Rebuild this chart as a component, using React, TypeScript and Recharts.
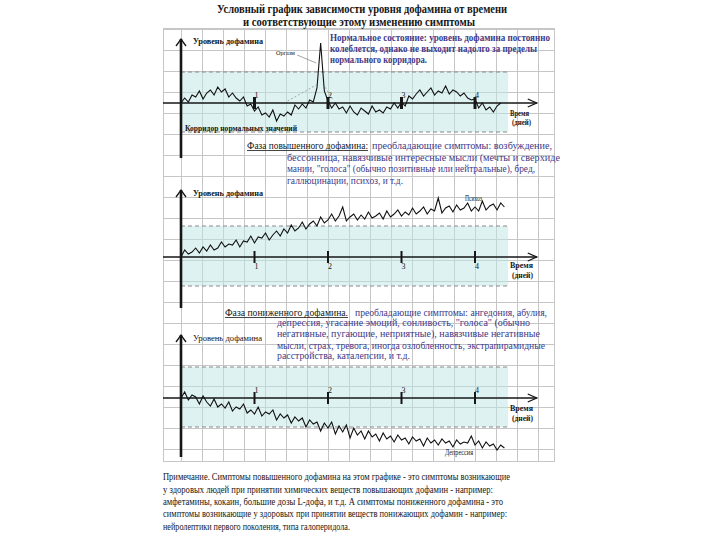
import { LineChart, Line, XAxis, YAxis, ReferenceArea, ReferenceLine, ReferenceDot } from "recharts";

// шаг по времени между точками (дни)
const STEP = 0.05;

// нормальное состояние — колебания вокруг нуля, с пиком ("оргазм") около 1.9 дня
const normalLevels = [
  0, 0.5, 0.1, 0.8, 0.6, 1.2, 0.4, 1.0, 1.3, 0.8, 1.6, 1.1, 1.4, 0.6, 1.0, 0.5, 0.2, 0.6, -0.3, -0.1,
  -0.8, -0.4, -1.2, -1.0, -1.4, -0.7, -1.8, -1.1, -1.3, -0.9, -1.2, -0.2, -0.6, -0.1, -0.5, 0.3, 0.1, 1.5, 6.0, 1.2,
  0.2, -0.5, 0.0, -0.6, -0.4, -1.0, -0.3, -0.9, -1.2, -0.5, -0.8, -1.1, -0.3, -0.9, -0.7, -1.0, -0.4, -0.6, 0.0, -0.5,
  0.1, -0.3, 0.7, 0.4, 0.9, 1.3, 0.7, 1.1, 1.5, 0.8, 1.2, 1.0, 1.7, 0.9, 1.3, 1.1, 0.7, 1.0, 0.5, 0.3,
  0.4, -0.5, 0.0, -0.7, -0.4, -0.9, -0.3, 0.0,
];

// фаза повышенного дофамина
const highLevels = [
  0.0, 0.7, 0.3, 0.5, 0.9, 0.4, 1.0, 0.6, 1.2, 0.7, 0.9, 1.5, 1.0, 1.3, 1.2, 1.7, 1.0, 1.6, 1.5, 2.1,
  1.4, 2.0, 1.9, 2.4, 1.7, 2.2, 2.6, 2.1, 2.8, 2.4, 3.2, 2.6, 2.9, 3.5, 2.8, 3.3, 3.6, 3.1, 4.0, 3.4,
  3.7, 4.3, 3.6, 4.1, 5.0, 3.6, 4.0, 4.3, 3.7, 4.2, 3.8, 4.5, 3.9, 4.1, 4.4, 3.8, 4.6, 4.0, 4.3, 4.7,
  4.1, 4.5, 4.2, 4.9, 4.3, 4.6, 5.0, 4.3, 4.8, 4.6, 5.9, 4.4, 4.9, 5.1, 4.5, 5.2, 4.7, 4.9, 5.4, 4.6,
  5.0, 4.6, 5.6, 4.7, 5.1, 5.3, 4.7, 5.4, 5.0,
];

// фаза пониженного дофамина
const lowLevels = [
  0.0, 0.6, -0.2, 0.3, 0.1, -0.6, 0.2, -0.4, -0.8, -0.1, -0.9, -0.6, -1.0, -0.4, -1.3, -0.9, -1.1, -0.6, -1.5, -1.2,
  -1.6, -0.9, -1.8, -1.4, -1.6, -1.2, -2.2, -1.6, -2.0, -1.7, -2.5, -1.9, -2.3, -2.0, -2.9, -2.2, -2.6, -2.4, -3.3, -2.5,
  -3.0, -2.4, -3.6, -2.8, -3.4, -2.7, -4.0, -3.0, -3.7, -3.3, -4.1, -3.3, -3.9, -3.6, -4.3, -3.5, -4.1, -3.8, -4.4, -3.7,
  -4.2, -4.0, -4.6, -3.9, -4.3, -4.1, -4.8, -4.0, -4.5, -4.2, -4.7, -4.1, -4.5, -4.3, -4.9, -4.2, -4.6, -4.4, -4.5, -3.8,
  -4.7, -4.3, -5.0, -4.4, -4.8, -4.6, -5.2, -4.7, -5.0,
];

const dayTicks = [1, 2, 3, 4];
const CORRIDOR_LOW = -2.9;
const CORRIDOR_HIGH = 3.1;
const CORRIDOR_END = 4.45;
const AXIS_END = 4.84;

// геометрия страницы
const GRID_LEFT = 163;
const GRID_W = 392;
const X_DOMAIN: [number, number] = [(163 - 181) / 73.5, (555 - 181) / 73.5];

const FONT = '"Liberation Serif", "DejaVu Serif", serif';
const INK = "#161616";
const BLUE = "#403a88";

const toRows = (levels: number[]) => levels.map((v, i) => ({ t: +(i * STEP).toFixed(2), v }));

function Panel({
  top,
  height,
  yDomain,
  levels,
  axisTop,
  axisBottom,
  side,
  tickW,
  children,
}: {
  top: number;
  height: number;
  yDomain: [number, number];
  levels: number[];
  axisTop: number;
  axisBottom: number;
  side: "above" | "below";
  tickW: number;
  children?: any;
}) {
  return (
    <div style={{ position: "absolute", left: GRID_LEFT, top, width: GRID_W, height }}>
      <LineChart width={GRID_W} height={height} data={toRows(levels)} margin={{ top: 0, right: 0, bottom: 0, left: 0 }}>
        <XAxis dataKey="t" type="number" domain={X_DOMAIN} allowDataOverflow hide />
        <YAxis type="number" domain={yDomain} allowDataOverflow hide />
        <ReferenceArea x1={0} x2={CORRIDOR_END} y1={CORRIDOR_LOW} y2={CORRIDOR_HIGH} fill="#bfe6e6" fillOpacity={0.5} stroke="none" />
        <ReferenceLine segment={[{ x: 0, y: CORRIDOR_HIGH }, { x: CORRIDOR_END, y: CORRIDOR_HIGH }]} stroke="#8a8a8a" strokeDasharray="4 3" />
        <ReferenceLine segment={[{ x: 0, y: CORRIDOR_LOW }, { x: CORRIDOR_END, y: CORRIDOR_LOW }]} stroke="#8a8a8a" strokeDasharray="4 3" />
        {children}
        <ReferenceLine segment={[{ x: X_DOMAIN[0], y: 0 }, { x: AXIS_END, y: 0 }]} stroke={INK} strokeWidth={1.4} />
        <ReferenceLine segment={[{ x: 0, y: axisBottom }, { x: 0, y: axisTop }]} stroke={INK} strokeWidth={2.6} />
        <ReferenceDot
          x={AXIS_END}
          y={0}
          shape={(p: any) => (
            <path d={`M${p.cx - 9},${p.cy - 4}L${p.cx},${p.cy}L${p.cx - 9},${p.cy + 4}`} fill="none" stroke={INK} strokeWidth={1.3} />
          )}
        />
        <ReferenceDot
          x={0}
          y={axisTop}
          shape={(p: any) => (
            <path d={`M${p.cx - 5},${p.cy + 7}L${p.cx},${p.cy}L${p.cx + 5},${p.cy + 7}`} fill="none" stroke={INK} strokeWidth={1.3} />
          )}
        />
        {dayTicks.map((d) => (
          <ReferenceDot
            key={d}
            x={d}
            y={0}
            shape={(p: any) => (
              <g>
                <line x1={p.cx} x2={p.cx} y1={p.cy - 6} y2={p.cy + 6} stroke={INK} strokeWidth={tickW} />
                <text x={p.cx + 2} y={side === "above" ? p.cy - 5 : p.cy + 12} fontSize={8} textAnchor="middle" fontFamily={FONT} fill={INK}>
                  {d}
                </text>
              </g>
            )}
          />
        ))}
        <Line dataKey="v" type="linear" stroke="#111" strokeWidth={1.1} dot={false} isAnimationActive={false} />
      </LineChart>
    </div>
  );
}

// текст, сжатый до ширины как на скане
function T({
  x,
  y,
  w,
  size = 10,
  bold = false,
  fill = INK,
  children,
}: {
  x: number;
  y: number;
  w: number;
  size?: number;
  bold?: boolean;
  fill?: string;
  children: string;
}) {
  return (
    <text
      x={x}
      y={y + size * 0.33}
      textLength={w}
      lengthAdjust="spacingAndGlyphs"
      fontSize={size}
      fontWeight={bold ? 700 : 400}
      fill={fill}
      fontFamily={FONT}
    >
      {children}
    </text>
  );
}

export default function App() {
  return (
    <div style={{ position: "absolute", left: 0, top: 0, width: 720, height: 540, background: "#fff", overflow: "hidden" }}>
      {/* миллиметровка */}
      <div
        style={{
          position: "absolute",
          left: GRID_LEFT,
          top: 28,
          width: GRID_W,
          height: 434,
          boxSizing: "border-box",
          border: "1px solid #c6c6c6",
          backgroundImage:
            "linear-gradient(to right, #c6c6c6 1px, transparent 1px), linear-gradient(to bottom, #c6c6c6 1px, transparent 1px)",
          backgroundSize: "21px 21px",
          backgroundPosition: "17px 0px",
        }}
      />

      <Panel top={28} height={137} yDomain={[-6.2, 7.5]} levels={normalLevels} axisTop={6.4} axisBottom={-5.5} side="above" tickW={3}>
        <ReferenceLine segment={[{ x: 1.45, y: 0.2 }, { x: 1.84, y: 1.8 }]} stroke="#777" strokeWidth={0.6} strokeDasharray="2 2" />
        <ReferenceLine segment={[{ x: 2.06, y: 0.4 }, { x: 1.94, y: 1.8 }]} stroke="#777" strokeWidth={0.6} strokeDasharray="2 2" />
        <ReferenceLine segment={[{ x: 1.58, y: 4.8 }, { x: 1.84, y: 4.0 }]} stroke="#666" strokeWidth={0.6} />
      </Panel>
      <Panel top={165} height={145} yDomain={[-5.3, 9.2]} levels={highLevels} axisTop={6.7} axisBottom={-5.1} side="below" tickW={2} />
      <Panel top={310} height={152} yDomain={[-6.4, 8.8]} levels={lowLevels} axisTop={6.3} axisBottom={-5.9} side="above" tickW={2} />

      <svg width={720} height={540} style={{ position: "absolute", left: 0, top: 0, pointerEvents: "none" }}>
        <defs>
          <clipPath id="page-cut">
            <rect x={0} y={0} width={560} height={540} />
          </clipPath>
        </defs>
        <T x={217} y={8.5} w={290} size={12.5} bold>Условный график зависимости уровня дофамина от времени</T>
        <T x={243} y={22} w={232} size={12.5} bold>и соответствующие этому изменению симптомы</T>

        {/* панель 1 */}
        <T x={193} y={41} w={70} size={8} bold>Уровень дофамина</T>
        <T x={276} y={53} w={19} size={7}>Оргазм</T>
        <T x={330} y={38} w={220} size={10.5} bold fill={BLUE}>Нормальное состояние: уровень дофамина постоянно</T>
        <T x={330} y={49} w={207} size={10.5} bold fill={BLUE}>колеблется, однако не выходит надолго за пределы</T>
        <T x={330} y={60} w={97} size={10.5} bold fill={BLUE}>нормального корридора.</T>
        <T x={510} y={114} w={19} size={7.5} bold>Время</T>
        <T x={512} y={123} w={19} size={7.5} bold>(дней)</T>
        <T x={185} y={128} w={112} size={8.5} bold>Корридор нормальных значений</T>

        {/* панель 2 */}
        <T x={247} y={146} w={121} size={10.5}>Фаза повышенного дофамина:</T>
        <line x1={247} x2={368} y1={150.5} y2={150.5} stroke={INK} strokeWidth={0.8} />
        <g clipPath="url(#page-cut)">
          <T x={372} y={146} w={180} size={10.5} fill={BLUE}>преобладающие симптомы: возбуждение,</T>
          <T x={287} y={158} w={281} size={10.5} fill={BLUE}>бессонница, навязчивые интересные мысли (мечты и сверхидеи,</T>
          <T x={287} y={169} w={248} size={10.5} fill={BLUE}>мании, "голоса" (обычно позитивные или нейтральные), бред,</T>
          <T x={287} y={181} w={116} size={10.5} fill={BLUE}>галлюцинации, психоз, и т.д.</T>
        </g>
        <T x={193} y={193} w={70} size={8} bold>Уровень дофамина</T>
        <T x={465} y={199} w={17} size={7.5}>Психоз</T>
        <T x={510} y={266} w={23} size={7.5} bold>Время</T>
        <T x={512} y={276} w={21} size={7.5} bold>(дней)</T>

        {/* панель 3 */}
        <T x={225} y={313} w={123} size={10.5}>Фаза пониженного дофамина.</T>
        <line x1={225} x2={348} y1={317.5} y2={317.5} stroke={INK} strokeWidth={0.8} />
        <T x={355} y={313} w={192} size={10.5} fill={BLUE}>преобладающие симптомы: ангедония, абулия,</T>
        <T x={277} y={323} w={253} size={10.5} fill={BLUE}>депрессия, угасание эмоций, сонливость, "голоса" (обычно</T>
        <T x={277} y={334} w={263} size={10.5} fill={BLUE}>негативные, пугающие, неприятные), навязчивые негативные</T>
        <T x={277} y={346} w={268} size={10.5} fill={BLUE}>мысли, страх, тревога, иногда озлобленность, экстрапирамидные</T>
        <T x={277} y={356} w={133} size={10.5} fill={BLUE}>расстройства, каталепсии, и т.д.</T>
        <T x={193} y={338} w={69} size={8.5}>Уровень дофамина</T>
        <T x={510} y={409} w={23} size={7.5} bold>Время</T>
        <T x={512} y={419} w={21} size={7.5} bold>(дней)</T>
        <T x={445} y={453} w={28} size={7.5}>Депрессия</T>

        {/* примечание */}
        <T x={163} y={476} w={347} size={11}>Примечание. Симптомы повышенного дофамина на этом графике - это симптомы возникающие</T>
        <T x={163} y={489} w={330} size={11}>у здоровых людей при принятии химических веществ повышающих дофамин - например:</T>
        <T x={163} y={501} w={340} size={11}>амфетамины,  кокаин, большие дозы L-дофа, и т.д. А симптомы пониженного дофамина - это</T>
        <T x={163} y={513} w={344} size={11}>симптомы возникающие у здоровых при принятии веществ понижающих дофамин - например:</T>
        <T x={163} y={526} w={187} size={11}>нейролептики первого поколения, типа галоперидола.</T>
      </svg>
    </div>
  );
}
